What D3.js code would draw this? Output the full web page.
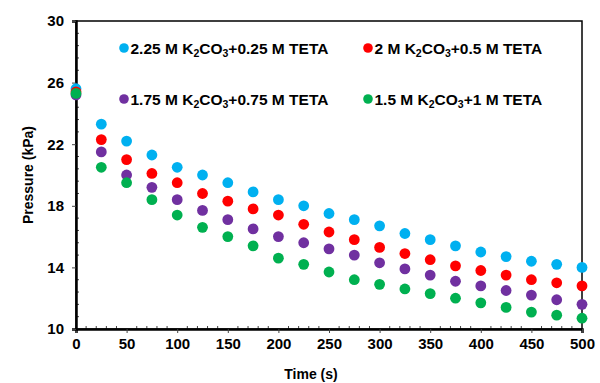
<!DOCTYPE html>
<html>
<head>
    <script src="https://d3js.org/d3.v7.min.js"></script>
    <style>
        body { margin: 0; background: #fff; }
        text { font-family: "Liberation Sans", Arial, sans-serif; font-weight: bold; }
    </style>
</head>
<body>
<div id="chart"></div>
<script>
    // Time points (s)
    const times = [0, 25, 50, 75, 100, 125, 150, 175, 200, 225, 250, 275, 300, 325, 350, 375, 400, 425, 450, 475, 500];

    // Pressure (kPa) for each solvent blend
    const p225 = [25.6, 23.3, 22.2, 21.3, 20.5, 20.0, 19.5, 18.9, 18.4, 18.0, 17.5, 17.1, 16.7, 16.2, 15.8, 15.4, 15.0, 14.7, 14.4, 14.2, 14.0];
    const p200 = [25.4, 22.3, 21.0, 20.1, 19.5, 18.8, 18.3, 17.8, 17.4, 16.8, 16.3, 15.8, 15.3, 14.9, 14.5, 14.1, 13.8, 13.5, 13.2, 13.0, 12.8];
    const p175 = [25.2, 21.5, 20.0, 19.2, 18.4, 17.7, 17.1, 16.5, 16.0, 15.6, 15.2, 14.8, 14.3, 13.9, 13.5, 13.1, 12.8, 12.5, 12.2, 11.9, 11.6];
    const p150 = [25.3, 20.5, 19.5, 18.4, 17.4, 16.6, 16.0, 15.4, 14.6, 14.2, 13.7, 13.2, 12.9, 12.6, 12.3, 12.0, 11.7, 11.4, 11.1, 10.9, 10.7];

    const seriesNames = [
        ["2.25 M K", "2", "CO", "3", "+0.25 M TETA"],
        ["2 M K", "2", "CO", "3", "+0.5 M TETA"],
        ["1.75 M K", "2", "CO", "3", "+0.75 M TETA"],
        ["1.5 M K", "2", "CO", "3", "+1 M TETA"]
    ];
    const seriesColors = ["#00B0F0", "#FF0000", "#7030A0", "#00B050"];
    const seriesValues = [p225, p200, p175, p150];

    const xTicks = [0, 50, 100, 150, 200, 250, 300, 350, 400, 450, 500];
    const yTicks = [10, 14, 18, 22, 26, 30];

    const width = 600, height = 383;
    const margin = { top: 21, right: 18, bottom: 54, left: 76 };

    const svg = d3.select("#chart").append("svg")
        .attr("width", width)
        .attr("height", height);

    const x = d3.scaleLinear().domain([0, 500]).range([margin.left, width - margin.right]);
    const y = d3.scaleLinear().domain([10, 30]).range([height - margin.bottom, margin.top]);

    // minor ticks (inward)
    const xMinor = d3.range(0, 501, 10).filter(v => v % 50 !== 0);
    const yMinor = d3.range(10, 30.01, 0.8).filter(v => Math.abs((v - 10) % 4) > 0.01 && Math.abs((v - 10) % 4 - 4) > 0.01);

    svg.append("g")
        .selectAll("line")
        .data(xMinor)
        .enter().append("line")
        .attr("x1", d => x(d)).attr("x2", d => x(d))
        .attr("y1", y(10)).attr("y2", y(10) - 3)
        .attr("stroke", "#444").attr("stroke-width", 1);

    svg.append("g")
        .selectAll("line")
        .data(yMinor)
        .enter().append("line")
        .attr("x1", x(0)).attr("x2", x(0) + 3)
        .attr("y1", d => y(d)).attr("y2", d => y(d))
        .attr("stroke", "#444").attr("stroke-width", 1);

    // plot frame
    svg.append("rect")
        .attr("x", x(0)).attr("y", y(30))
        .attr("width", x(500) - x(0))
        .attr("height", y(10) - y(30))
        .attr("fill", "none")
        .attr("stroke", "#000")
        .attr("stroke-width", 1.5);

    // axes
    const xAxis = svg.append("g")
        .attr("transform", `translate(0,${y(10)})`)
        .call(d3.axisBottom(x).tickValues(xTicks).tickSize(4).tickPadding(5));
    const yAxis = svg.append("g")
        .attr("transform", `translate(${x(0)},0)`)
        .call(d3.axisLeft(y).tickValues(yTicks).tickSize(4).tickPadding(8));

    [xAxis, yAxis].forEach(a => {
        a.select(".domain").attr("stroke", "#000").attr("stroke-width", 2.5);
        a.selectAll(".tick line").attr("stroke", "#444");
        a.selectAll(".tick text")
            .attr("fill", "#000")
            .style("font-size", "15px")
            .style("font-weight", "bold")
            .style("font-family", "'Liberation Sans', Arial, sans-serif");
    });

    // axis titles
    svg.append("text")
        .attr("x", 311).attr("y", 379)
        .attr("text-anchor", "middle")
        .style("font-size", "14px")
        .text("Time (s)");

    svg.append("text")
        .attr("transform", `translate(33,${(y(10) + y(30)) / 2}) rotate(-90)`)
        .attr("text-anchor", "middle")
        .style("font-size", "14px")
        .text("Pressure (kPa)");

    // data points
    seriesValues.forEach((vals, i) => {
        svg.append("g")
            .selectAll("circle")
            .data(vals)
            .enter().append("circle")
            .attr("cx", (d, j) => x(times[j]))
            .attr("cy", d => y(d))
            .attr("r", 5.4)
            .attr("fill", seriesColors[i]);
    });

    // legend
    const legendPos = [[124, 48], [368, 48], [124, 99], [368, 99]];
    seriesNames.forEach((parts, i) => {
        const g = svg.append("g").attr("transform", `translate(${legendPos[i][0]},${legendPos[i][1]})`);
        g.append("circle").attr("r", 4.8).attr("fill", seriesColors[i]);
        const t = g.append("text")
            .attr("x", 6.5).attr("y", 5.5)
            .style("font-size", "15.5px");
        parts.forEach((p, k) => {
            const sub = k === 1 || k === 3;
            t.append("tspan")
                .attr("dy", sub ? 3.5 : (k === 0 ? 0 : -3.5))
                .style("font-size", sub ? "10.5px" : "15.5px")
                .text(p);
        });
    });
</script>
</body>
</html>
